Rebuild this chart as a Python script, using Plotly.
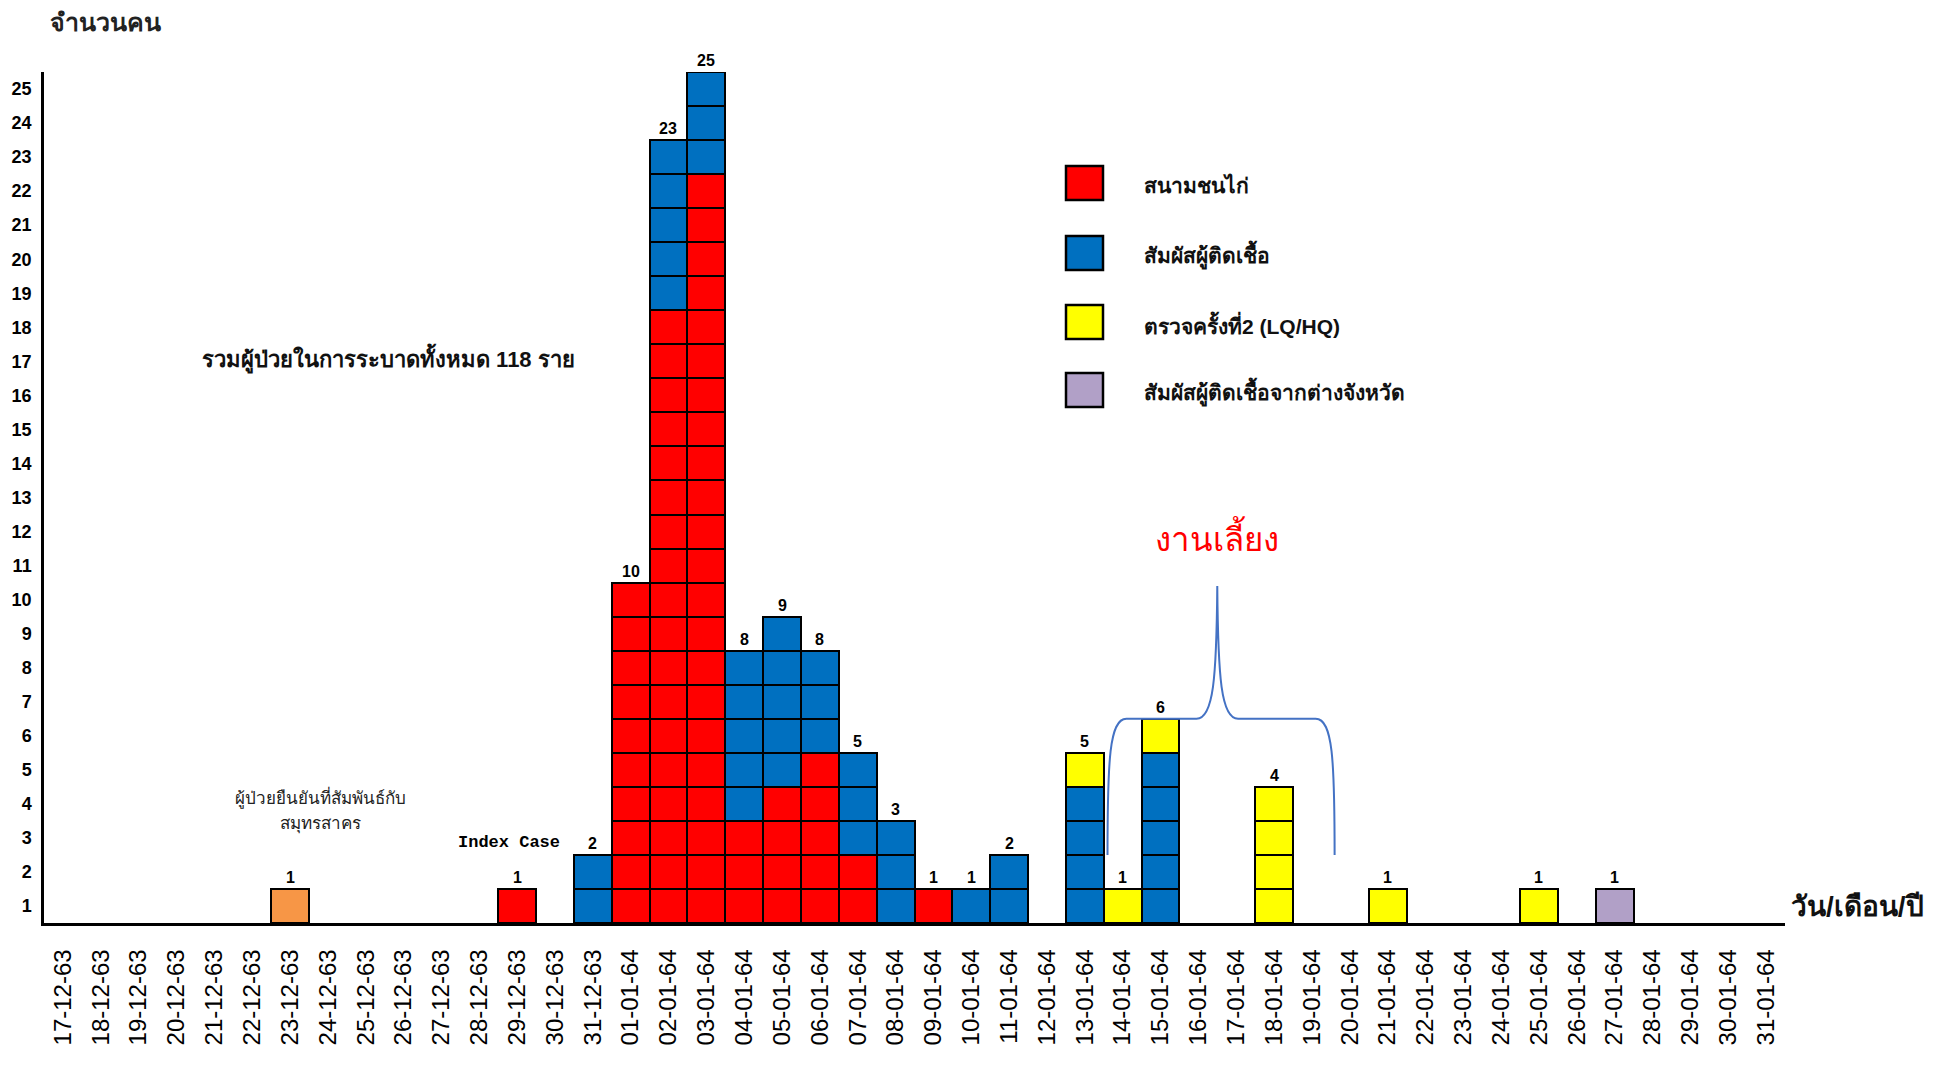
import plotly.graph_objects as go

# ---------------- data ----------------
dates = [
    "17-12-63", "18-12-63", "19-12-63", "20-12-63", "21-12-63", "22-12-63", "23-12-63",
    "24-12-63", "25-12-63", "26-12-63", "27-12-63", "28-12-63", "29-12-63", "30-12-63",
    "31-12-63",
    "01-01-64", "02-01-64", "03-01-64", "04-01-64", "05-01-64", "06-01-64", "07-01-64",
    "08-01-64", "09-01-64", "10-01-64", "11-01-64", "12-01-64", "13-01-64", "14-01-64",
    "15-01-64", "16-01-64", "17-01-64", "18-01-64", "19-01-64", "20-01-64", "21-01-64",
    "22-01-64", "23-01-64", "24-01-64", "25-01-64", "26-01-64", "27-01-64", "28-01-64",
    "29-01-64", "30-01-64", "31-01-64",
]
#            17 18 19 20 21 22 23 24 25 26 27 28 29 30 31 | 1  2  3  4  5  6  7  8  9 10 11 12 13 14 15 16 17 18 19 20 21 22 23 24 25 26 27 28 29 30 31
samut    = [0, 0, 0, 0, 0, 0, 1, 0, 0, 0, 0, 0, 0, 0, 0,   0, 0, 0, 0, 0, 0, 0, 0, 0, 0, 0, 0, 0, 0, 0, 0, 0, 0, 0, 0, 0, 0, 0, 0, 0, 0, 0, 0, 0, 0, 0]
cockpit  = [0, 0, 0, 0, 0, 0, 0, 0, 0, 0, 0, 0, 1, 0, 0,  10,18,22, 3, 4, 5, 2, 0, 1, 0, 0, 0, 0, 0, 0, 0, 0, 0, 0, 0, 0, 0, 0, 0, 0, 0, 0, 0, 0, 0, 0]
contact  = [0, 0, 0, 0, 0, 0, 0, 0, 0, 0, 0, 0, 0, 0, 2,   0, 5, 3, 5, 5, 3, 3, 3, 0, 1, 2, 0, 4, 0, 5, 0, 0, 0, 0, 0, 0, 0, 0, 0, 0, 0, 0, 0, 0, 0, 0]
retest   = [0, 0, 0, 0, 0, 0, 0, 0, 0, 0, 0, 0, 0, 0, 0,   0, 0, 0, 0, 0, 0, 0, 0, 0, 0, 0, 0, 1, 1, 1, 0, 0, 4, 0, 0, 1, 0, 0, 0, 1, 0, 0, 0, 0, 0, 0]
province = [0, 0, 0, 0, 0, 0, 0, 0, 0, 0, 0, 0, 0, 0, 0,   0, 0, 0, 0, 0, 0, 0, 0, 0, 0, 0, 0, 0, 0, 0, 0, 0, 0, 0, 0, 0, 0, 0, 0, 0, 0, 1, 0, 0, 0, 0]

series_names = ["ผู้ป่วยยืนยันที่สัมพันธ์กับสมุทรสาคร", "สนามชนไก่", "สัมผัสผู้ติดเชื้อ",
                "ตรวจครั้งที่2 (LQ/HQ)", "สัมผัสผู้ติดเชื้อจากต่างจังหวัด"]
series_vals = [samut, cockpit, contact, retest, province]
series_cols = ["#F79646", "#FF0000", "#0070C0", "#FFFF00", "#B1A0C7"]
legend_idx = [1, 2, 3, 4]

y_ticks = list(range(1, 26))
total_cases = 118

# ---------------- layout constants ----------------
# page is rendered with the browser's default 8px body margin
OFF = 8
W, H = 1955 - 2 * OFF, 1066 - 2 * OFF
PL, PR, PT, PB = 44, 1785, 72, 923          # plot box in page pixels
ML, MT = PL - OFF, PT - OFF
MR, MB = W - (PR - OFF), H - (PB - OFF)
PW, PH = PR - PL, PB - PT


def px(x):
    return (x - PL) / PW


def py(y):
    return (PB - y) / PH


fig = go.Figure()

# one trace per unit layer so each case is its own bordered cell
for name, vals, col in zip(series_names, series_vals, series_cols):
    for k in range(1, max(vals) + 1):
        fig.add_trace(go.Bar(
            x=dates,
            y=[1 if v >= k else None for v in vals],
            marker=dict(color=col, line=dict(color="#000000", width=2)),
            name=name, showlegend=False, hoverinfo="skip",
        ))

totals = [sum(v) for v in zip(*series_vals)]
for d, t in zip(dates, totals):
    if t > 0:
        fig.add_annotation(x=d, y=t, text=str(t), showarrow=False,
                           yanchor="bottom", yshift=1,
                           font=dict(family="Liberation Sans, Arial", size=16,
                                     color="#000", weight=700))

# legend drawn manually (big swatches)
row_y = [183, 253, 322, 390]
for ry, i in zip(row_y, legend_idx):
    fig.add_shape(type="rect", xref="paper", yref="paper",
                  x0=px(1066), x1=px(1103), y0=py(ry - 17), y1=py(ry + 17),
                  fillcolor=series_cols[i], line=dict(color="#000", width=2.5))
    fig.add_annotation(xref="paper", yref="paper", x=px(1142), y=py(ry + 2),
                       text=series_names[i], showarrow=False,
                       xanchor="left", yanchor="middle",
                       font=dict(size=21, color="#111", weight=700))

# text annotations
fig.add_annotation(xref="paper", yref="paper", x=px(48), y=py(22),
                   text="จำนวนคน", showarrow=False, xanchor="left",
                   yanchor="middle", font=dict(size=25, color="#222", weight=700))
fig.add_annotation(xref="paper", yref="paper", x=px(388), y=py(359),
                   text=f"รวมผู้ป่วยในการระบาดทั้งหมด {total_cases} ราย",
                   showarrow=False, xanchor="center",
                   font=dict(size=22, color="#111", weight=700))
fig.add_annotation(xref="paper", yref="paper", x=px(320), y=py(811),
                   text="ผู้ป่วยยืนยันที่สัมพันธ์กับ", showarrow=False,
                   xanchor="center", font=dict(size=17, color="#222"))
fig.add_annotation(xref="paper", yref="paper", x=px(320), y=py(836),
                   text="สมุทรสาคร", showarrow=False,
                   xanchor="center", font=dict(size=17, color="#222"))
fig.add_annotation(x="31-12-63", y=2, text="Index Case", showarrow=False,
                   xanchor="right", yanchor="bottom", xshift=-31, yshift=1,
                   font=dict(family="Liberation Mono, monospace", size=17,
                             color="#000", weight=700))
fig.add_annotation(xref="paper", yref="paper", x=px(1789), y=py(906),
                   text="วัน/เดือน/ปี", showarrow=False, xanchor="left",
                   yanchor="middle", font=dict(size=28, color="#111", weight=700))
fig.add_annotation(x=30.5, y=11.35, text="งานเลี้ยง", showarrow=False,
                   yanchor="middle", font=dict(size=33, color="#FF0000"))

# curly brace over the party cluster
xl, xm, xr = 27.6, 30.5, 33.6
yb, yh, yt = 2.0, 6.0, 9.9
brace = (f"M {xl},{yb} C {xl},{yh-1.2} {xl+0.05},{yh} {xl+0.5},{yh} "
         f"L {xm-0.55},{yh} C {xm-0.1},{yh} {xm-0.02},{yh+1.2} {xm},{yt} "
         f"C {xm+0.02},{yh+1.2} {xm+0.1},{yh} {xm+0.55},{yh} "
         f"L {xr-0.5},{yh} C {xr-0.05},{yh} {xr},{yh-1.2} {xr},{yb}")
fig.add_shape(type="path", path=brace, xref="x", yref="y",
              line=dict(color="#4472C4", width=2))

fig.update_layout(
    width=W, height=H, barmode="stack", bargap=0,
    plot_bgcolor="white", paper_bgcolor="white",
    margin=dict(l=ML, r=MR, t=MT, b=MB, autoexpand=False),
    showlegend=False,
    font=dict(family="Liberation Sans, Arial, sans-serif"),
)
fig.update_xaxes(
    type="category", range=[-0.5, len(dates) - 0.5], tickangle=-90,
    showgrid=False, showline=True, linecolor="#000", linewidth=2.5,
    ticks="", ticklabelstandoff=14,
    tickfont=dict(family="Liberation Sans, Arial", size=24, color="#000"),
)
fig.update_yaxes(
    range=[0, 25], tickvals=[v - 0.5 for v in y_ticks],
    ticktext=[str(v) for v in y_ticks],
    showgrid=False, showline=True, linecolor="#000", linewidth=2.5,
    zeroline=False, ticks="", ticklabelstandoff=6,
    tickfont=dict(family="Liberation Sans Narrow, Liberation Sans, Arial", size=18,
                  color="#000", weight=700),
)

fig.write_html("out.html")
